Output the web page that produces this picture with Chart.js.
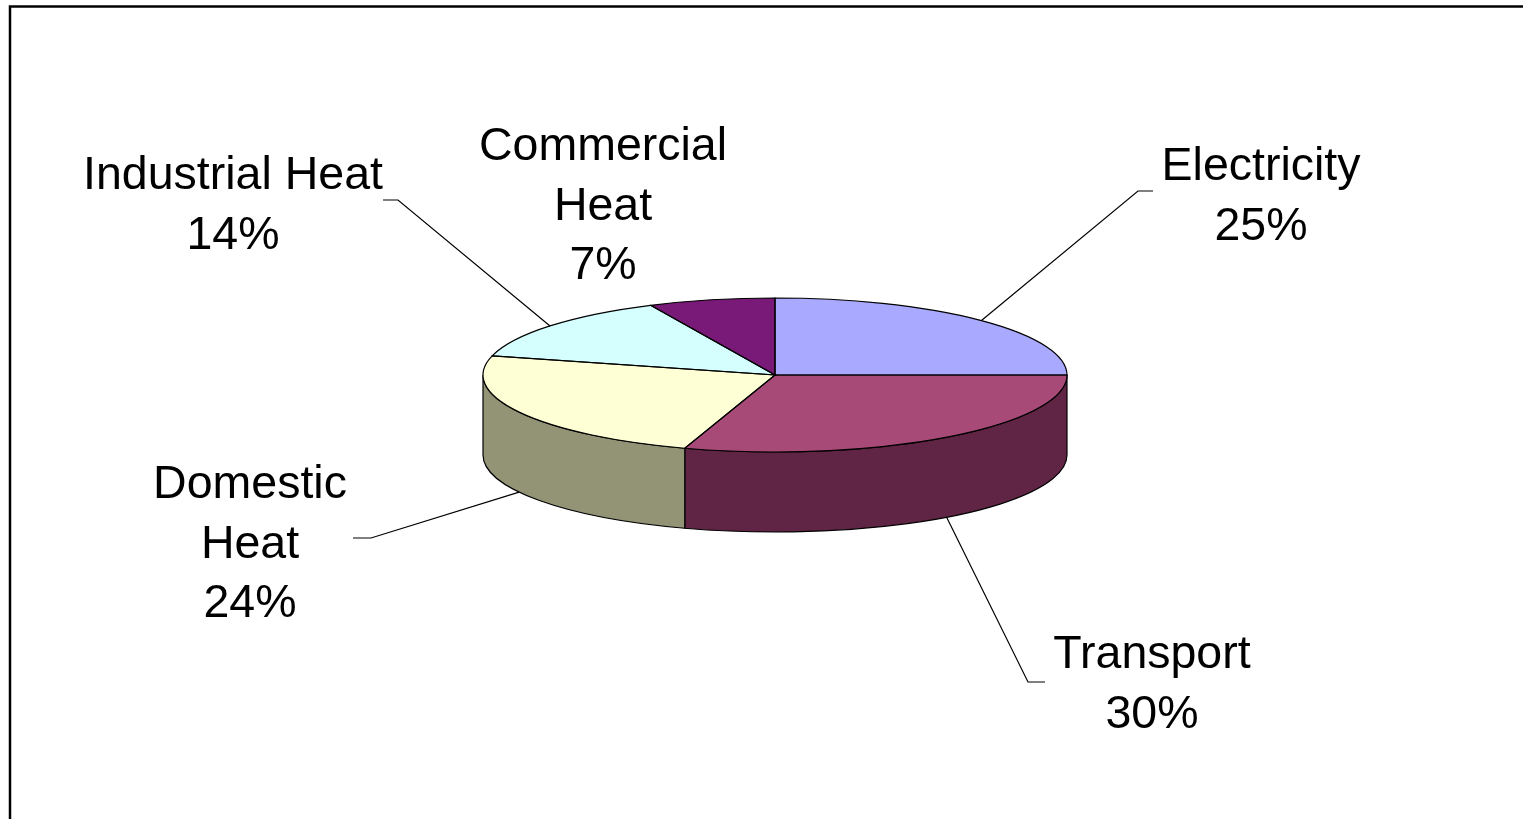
<!DOCTYPE html>
<html>
<head>
<meta charset="utf-8">
<script src="https://cdn.jsdelivr.net/npm/chart.js@4.4.0/dist/chart.umd.min.js"></script>
<style>
  html, body { margin: 0; padding: 0; background: #ffffff; overflow: hidden; }
  #wrap { width: 1523px; height: 819px; position: relative; }
</style>
</head>
<body>
<div id="wrap"><canvas id="c" width="1523" height="819"></canvas></div>
<script>
// ---- data ----
const categories = ['Electricity', 'Transport', 'Domestic Heat', 'Industrial Heat', 'Commercial Heat'];
const shares = [25, 30, 24, 14, 7];
const labelNameLines = [['Electricity'], ['Transport'], ['Domestic', 'Heat'], ['Industrial Heat'], ['Commercial', 'Heat']];

// ---- styles ----
const topColors = ['#A9A9FF', '#A84A78', '#FFFFD5', '#D5FFFF', '#7A1A78'];
const sideColors = ['#5E5E8E', '#602444', '#939376', '#77908F', '#440E43'];

// ---- layout (label placement, not data) ----
const tilt = 77 / 292;     // vertical squash of the pie top
const depth = 80;          // pie thickness in px
const fontPx = 46.5;
const lineGap = 59.5;
const labelLayout = [
  { x: 1261, y: 180, leader: [[1138, 191], [1153, 191]], fromBottom: false },
  { x: 1152, y: 668, leader: [[1028, 682], [1045, 682]], fromBottom: true },
  { x: 250,  y: 498, leader: [[371, 538], [353, 538]], fromBottom: true },
  { x: 233,  y: 189, leader: [[398, 200], [383, 200]], fromBottom: false },
  { x: 603,  y: 160, leader: null, fromBottom: false }
];

function arcsOf(chart) {
  return chart.getDatasetMeta(0).data.map(el => el.getProps(['x', 'y', 'startAngle', 'endAngle', 'outerRadius'], true));
}

const pie3d = {
  id: 'pie3d',
  beforeDraw(chart) {
    const ctx = chart.ctx;
    ctx.save();
    ctx.fillStyle = '#ffffff';
    ctx.fillRect(0, 0, chart.width, chart.height);
    ctx.strokeStyle = '#000000';
    ctx.lineWidth = 2.5;
    ctx.strokeRect(10, 6.5, 1540, 840);
    ctx.restore();
  },
  beforeDatasetsDraw(chart) {
    const ctx = chart.ctx;
    const arcs = arcsOf(chart);
    const cx = arcs[0].x, cy = arcs[0].y, rx = arcs[0].outerRadius, ry = rx * tilt;
    // side walls (front half only: canvas angles 0..PI)
    ctx.save();
    ctx.lineWidth = 1.2;
    ctx.strokeStyle = '#000000';
    arcs.forEach((a, i) => {
      const s = Math.max(a.startAngle, 0), e = Math.min(a.endAngle, Math.PI);
      if (e <= s) return;
      ctx.beginPath();
      ctx.ellipse(cx, cy, rx, ry, 0, s, e, false);
      ctx.lineTo(cx + rx * Math.cos(e), cy + ry * Math.sin(e) + depth);
      ctx.ellipse(cx, cy + depth, rx, ry, 0, e, s, true);
      ctx.closePath();
      ctx.fillStyle = sideColors[i];
      ctx.fill();
      ctx.stroke();
    });
    ctx.restore();
    // squash the top face drawn by the library
    ctx.save();
    ctx.translate(0, cy);
    ctx.scale(1, tilt);
    ctx.translate(0, -cy);
  },
  afterDatasetsDraw(chart) {
    const ctx = chart.ctx;
    ctx.restore();
    const arcs = arcsOf(chart);
    const cx = arcs[0].x, cy = arcs[0].y, rx = arcs[0].outerRadius, ry = rx * tilt;
    // outlines of top face
    ctx.save();
    ctx.lineWidth = 1.2;
    ctx.strokeStyle = '#000000';
    arcs.forEach(a => {
      ctx.beginPath();
      ctx.moveTo(cx, cy);
      ctx.lineTo(cx + rx * Math.cos(a.startAngle), cy + ry * Math.sin(a.startAngle));
      ctx.ellipse(cx, cy, rx, ry, 0, a.startAngle, a.endAngle, false);
      ctx.closePath();
      ctx.stroke();
    });
    // leader lines
    ctx.strokeStyle = '#000000';
    ctx.lineWidth = 1.2;
    arcs.forEach((a, i) => {
      const L = labelLayout[i];
      if (!L.leader) return;
      const mid = (a.startAngle + a.endAngle) / 2;
      const sx = cx + rx * Math.cos(mid);
      const sy = cy + ry * Math.sin(mid) + (L.fromBottom ? depth : 0);
      ctx.beginPath();
      ctx.moveTo(sx, sy);
      L.leader.forEach(p => ctx.lineTo(p[0], p[1]));
      ctx.stroke();
    });
    // labels
    ctx.fillStyle = '#000000';
    ctx.font = fontPx + 'px "Liberation Sans", Arial, sans-serif';
    ctx.textAlign = 'center';
    ctx.textBaseline = 'alphabetic';
    categories.forEach((c, i) => {
      const L = labelLayout[i];
      const lines = labelNameLines[i].concat([shares[i] + '%']);
      lines.forEach((t, k) => ctx.fillText(t, L.x, L.y + k * lineGap));
    });
    ctx.restore();
  }
};

// chart area chosen so that the pie centre sits at (775, 375) with radius 292
new Chart(document.getElementById('c'), {
  type: 'pie',
  data: {
    labels: categories,
    datasets: [{
      data: shares,
      backgroundColor: topColors,
      borderWidth: 0,
      hoverOffset: 0
    }]
  },
  options: {
    responsive: false,
    animation: false,
    events: [],
    rotation: 0,
    layout: { padding: { left: 483, right: 456, top: 83, bottom: 152 } },
    plugins: {
      legend: { display: false },
      tooltip: { enabled: false }
    }
  },
  plugins: [pie3d]
});
</script>
</body>
</html>
